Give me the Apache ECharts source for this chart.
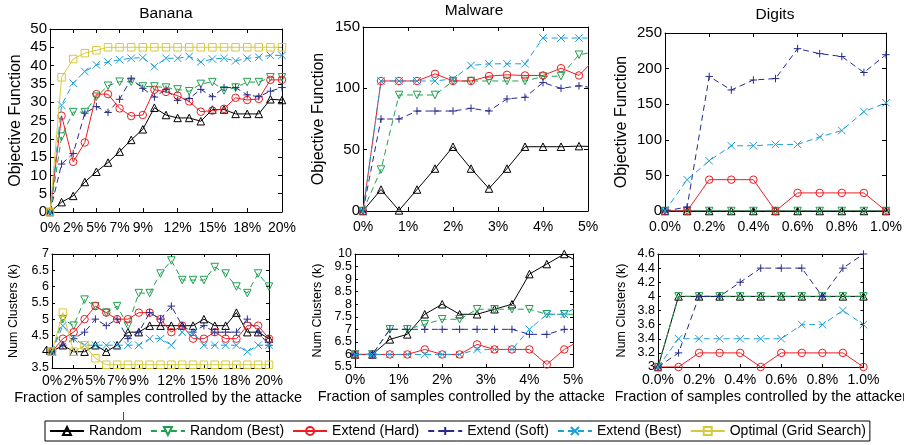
<!DOCTYPE html>
<html><head><meta charset="utf-8">
<script src="https://cdn.jsdelivr.net/npm/echarts@6/dist/echarts.min.js"></script>
<style>html,body{margin:0;padding:0;background:#fff}#c{width:909px;height:445px}</style>
</head><body><div id="c"></div>
<script>
// ---------- DATA ----------
const seriesNames = ['Random','Random (Best)','Extend (Hard)','Extend (Soft)','Extend (Best)','Optimal (Grid Search)'];
const panelTitles = ['Banana','Malware','Digits'];

const bananaX  = [0,1,2,3,4,5,6,7,8,9,10,11,12,13,14,15,16,17,18,19,20];
const malwareX = [0,0.4,0.8,1.2,1.6,2.0,2.4,2.8,3.2,3.6,4.0,4.4,4.8,5.2];
const digitsX  = [0,0.1,0.2,0.3,0.4,0.5,0.6,0.7,0.8,0.9,1.0];

const bananaTickValues = [0,2,4,6,8,11,14,17,20];
const bananaTickLabels = ['0%','2%','5%','7%','9%','12%','15%','18%','20%'];
const bananaKTicks  = [3.5,4,4.5,5,5.5,6,6.5,7];
const malwareKTicks = [5.5,6,6.5,7,7.5,8,8.5,9,9.5,10];
const digitsKTicks  = [3,3.2,3.4,3.6,3.8,4,4.2,4.4,4.6];

// Banana - Objective Function
const banObjRandom     = [0,2.7,4.4,8.2,11,13.5,16.5,19.7,22.6,28.5,26.5,25.7,25.7,24.8,28,28,26.8,26.8,26.8,30.8,30.6];
const banObjRandomBest = [0,20.6,27.3,27.3,31.5,34.5,35.6,35.6,34.3,34.3,34,33.5,33,35,35.5,33.2,34,35.5,35.5,36.8,36.8];
const banObjExtHard    = [0,26.3,13.7,19,32.2,32.2,28.3,26.2,26.5,33.4,32.8,31.8,30.2,27.4,27.7,28.2,31.2,30.6,30.9,36.1,36.1];
const banObjExtSoft    = [0,13.1,16,27,28.8,27.2,30.8,36.4,33.8,31.4,33.5,30.5,31,33.5,31.5,34,34,32,31.5,33,34];
const banObjExtBest    = [0,29.2,35.2,38.4,40.2,41,41.6,42,42.2,39.7,42,42,42.5,41,41.8,42,41.3,42,42.3,42.8,42.8];
const banObjOptimal    = [0,36.8,41.8,43.4,44.2,45,45,45,45,45,45,45,45,45,45,45,45,45,45,45,45];

// Malware - Objective Function
const malObjRandom     = [0,17.5,0.5,17.5,34.6,52.4,34.6,18.3,34.6,52.4,52.4,52.4,52.9,52.4];
const malObjRandomBest = [0,33.8,94.6,94.6,94.6,106,106,106,106,106,109.6,110,127.4,130];
const malObjExtHard    = [0,106,106,106,111.8,106,106,110,111,110.5,110.5,116.4,110.5,125.5];
const malObjExtSoft    = [0,75,75,81.5,81.5,81.5,83.7,81.5,91.4,92.7,104.7,100,102,100];
const malObjExtBest    = [0,106,106,106,106,107.7,118.6,120,120,120,141,141,141,141];

// Digits - Objective Function
const digObjRandom     = [0,0,0,0,0,0,0,0,0,0,0];
const digObjRandomBest = [0,0,0,0,0,0,0,0,0,0,0];
const digObjExtHard    = [0,0,44,44,44,0,25.4,25.4,25.4,25.4,0];
const digObjExtSoft    = [0,5.6,189,170,184,186,228,221,217,194.5,219.5];
const digObjExtBest    = [0,44,70.5,91.6,91.6,93.5,93.5,104,113,139.6,152];

// Banana - Num Clusters
const banKRandom     = [4,4.2,4,4,4.2,4,4.2,4.6,4.6,4.8,4.8,4.8,4.8,4.8,5,4.8,4.8,5.2,4.6,4.6,4.4];
const banKRandomBest = [4,5,4.8,5.6,5.4,5.2,5.4,4.8,5.8,5.8,6.4,6.8,6.2,6.2,6.2,6.6,6.4,6,5.8,6.4,6];
const banKExtHard    = [4,4.4,4.6,5,5.4,5.2,5,5,5.2,5.2,5,4.6,4.8,4.4,4.4,4.6,4.4,4.4,4.8,4.8,4.4];
const banKExtSoft    = [4,4.2,4.4,4.6,5,4.8,5,4.4,4.6,5.2,5,5.4,4.8,4.6,4.8,4.6,4.6,4.6,5,4.6,4.2];
const banKExtBest    = [4,4.8,4.4,4.2,4.2,4.2,4.2,4.2,4.2,4.4,4.4,4.2,4.6,4.6,4.2,4.2,4.2,4.2,4,4.2,4.2];
const banKOptimal    = [4,5.2,4,4.2,3.8,3.6,3.6,3.6,3.6,3.6,3.6,3.6,3.6,3.6,3.6,3.6,3.6,3.6,3.6,3.6,3.6];

// Malware - Num Clusters
const malKRandom     = [6,6,6.6,6.8,7.6,8,7.6,7.6,7.8,8,9.2,9.6,10,9.6];
const malKRandomBest = [6,6,7,7,7.2,7.4,7.4,7.8,7.8,7.8,7.8,7.6,7.6,7.6];
const malKExtHard    = [6,6,6,6,6.2,6,6,6.4,6.2,6.2,6.2,5.6,6.2,6.6];
const malKExtSoft    = [6,6,7,7,7,7,7,7,7,7,6.8,6.8,7,7];
const malKExtBest    = [6,6,6,6,6,6,6,6.2,6.2,6.2,7,7.6,7.6,8];

// Digits - Num Clusters
const digKRandom     = [3,4,4,4,4,4,4,4,4,4,4];
const digKRandomBest = [3,4,4,4,4,4,4,4,4,4,4];
const digKExtHard    = [3,3,3.2,3.2,3.2,3,3.2,3.2,3.2,3.2,3];
const digKExtSoft    = [3,3.2,4,4,4.2,4.4,4.4,4.4,4,4.4,4.6];
const digKExtBest    = [3,3.4,3.4,3.4,3.4,3.4,3.4,3.6,3.6,3.8,3.6];

// ---------- STYLE ----------
const FONT = 'Liberation Sans';
const styles = {
  'Random':                {color:'#000000', type:'solid', symbol:'triangle', rotate:0},
  'Random (Best)':         {color:'#20a050', type:[6,4],  symbol:'triangle', rotate:180},
  'Extend (Hard)':         {color:'#ee1d23', type:'solid', symbol:'circle', rotate:0},
  'Extend (Soft)':         {color:'#262b8d', type:[6,4],  symbol:'path://M5,0L5,10M0,5L10,5', rotate:0},
  'Extend (Best)':         {color:'#1a9fd9', type:[6,4],  symbol:'path://M0,0L10,10M10,0L0,10', rotate:0},
  'Optimal (Grid Search)': {color:'#d8c93c', type:'solid', symbol:'rect', rotate:0}
};

const panels = [
  {grid:{left:50, top:29, width:232, height:183}, x:bananaX, ys:[banObjRandom,banObjRandomBest,banObjExtHard,banObjExtSoft,banObjExtBest,banObjOptimal],
   xa:{min:0,max:20,custom:bananaTickValues,fmt:v=>bananaTickLabels[bananaTickValues.indexOf(v)]},
   ya:{min:0,max:50,interval:5}, yName:'Objective Function', yNameGap:26, top:true},
  {grid:{left:363, top:27, width:225, height:184}, x:malwareX, ys:[malObjRandom,malObjRandomBest,malObjExtHard,malObjExtSoft,malObjExtBest],
   xa:{min:0,max:5,interval:1,fmt:v=>v+'%'},
   ya:{min:0,max:150,interval:50}, yName:'Objective Function', yNameGap:36, top:true},
  {grid:{left:665, top:33, width:221, height:178}, x:digitsX, ys:[digObjRandom,digObjRandomBest,digObjExtHard,digObjExtSoft,digObjExtBest],
   xa:{min:0,max:1,interval:0.2,fmt:v=>v.toFixed(1)+'%'},
   ya:{min:0,max:250,interval:50}, yName:'Objective Function', yNameGap:35, top:true},
  {grid:{left:52, top:254, width:217, height:114}, x:bananaX, ys:[banKRandom,banKRandomBest,banKExtHard,banKExtSoft,banKExtBest,banKOptimal],
   xa:{min:0,max:20,custom:bananaTickValues,fmt:v=>bananaTickLabels[bananaTickValues.indexOf(v)]},
   ya:{min:3.5,max:7,interval:0.5,labels:bananaKTicks}, yName:'Num Clusters (k)', yNameX:14, top:false},
  {grid:{left:355, top:254, width:218, height:113}, x:malwareX, ys:[malKRandom,malKRandomBest,malKExtHard,malKExtSoft,malKExtBest],
   xa:{min:0,max:5,interval:1,fmt:v=>v+'%'},
   ya:{min:5.5,max:10,interval:0.5,labels:malwareKTicks}, yName:'Num Clusters (k)', yNameX:318, top:false},
  {grid:{left:658, top:254, width:218, height:113}, x:digitsX, ys:[digKRandom,digKRandomBest,digKExtHard,digKExtSoft,digKExtBest],
   xa:{min:0,max:1,interval:0.2,fmt:v=>v.toFixed(1)+'%'},
   ya:{min:3,max:4.6,interval:0.2,labels:digitsKTicks}, yName:'Num Clusters (k)', yNameX:622, top:false}
];

const grids = [], xAxes = [], yAxes = [], series = [], extraGraphics = [];
const black = '#000';
panels.forEach((p, g) => {
  grids.push(Object.assign({containLabel:false}, p.grid));
  const tickLen = p.top ? 4 : 3;
  const xBase = {gridIndex:g, type:'value', min:p.xa.min, max:p.xa.max,
    splitLine:{show:false}, axisLine:{onZero:false, lineStyle:{color:black, width:1}}};
  if (p.xa.interval) xBase.interval = p.xa.interval;
  const xMain = Object.assign({}, xBase, {position:'bottom',
    axisTick:{inside:true, length:tickLen, lineStyle:{color:black}},
    axisLabel:{color:black, fontFamily:FONT, fontSize:14, margin:p.top?9:6, formatter:p.xa.fmt,
      showMinLabel:true, showMaxLabel:true, hideOverlap:false}});
  const xTop = Object.assign({}, xBase, {position:'top',
    axisTick:{inside:true, length:tickLen, lineStyle:{color:black}}, axisLabel:{show:false}});
  if (p.xa.custom) {
    xMain.axisTick.customValues = p.xa.custom; xMain.axisLabel.customValues = p.xa.custom;
    xTop.axisTick.customValues = p.xa.custom; xTop.axisLabel.customValues = p.xa.custom;
  }
  if (!p.top) {
    xMain.name = 'Fraction of samples controlled by the attacker';
    xMain.nameLocation = 'middle'; xMain.nameGap = 22;
    xMain.nameTextStyle = {color:black, fontFamily:FONT, fontSize:14.5};
  }
  xAxes.push(xMain, xTop);
  const yBase = {gridIndex:g, type:'value', min:p.ya.min, max:p.ya.max, interval:p.ya.interval,
    splitLine:{show:false}, axisLine:{onZero:false, lineStyle:{color:black, width:1}},
    axisTick:{inside:true, length:tickLen, lineStyle:{color:black}}};
  const ylab = p.top
    ? {color:black, fontFamily:FONT, fontSize:15, margin:3, showMinLabel:true, showMaxLabel:true, hideOverlap:false}
    : {show:false};
  const yMain = Object.assign({}, yBase, {position:'left', axisLabel:ylab});
  if (p.top) {
    Object.assign(yMain, {name:p.yName, nameLocation:'middle', nameGap:p.yNameGap,
      nameTextStyle:{color:black, fontFamily:FONT, fontSize:16}});
  } else {
    extraGraphics.push({type:'text', x:p.yNameX, y:p.grid.top + p.grid.height/2, rotation:Math.PI/2,
      style:{text:p.yName, fill:black, font:'12.5px "Liberation Sans"', textAlign:'center', textVerticalAlign:'middle'}, z:50});
  }
  yAxes.push(yMain);
  yAxes.push(Object.assign({}, yBase, {position:'right', axisLabel:{show:false}}));
  p.ys.forEach((ys, k) => {
    const nm = seriesNames[k], st = styles[nm];
    series.push({
      name:nm, type:'line', xAxisIndex:2*g, yAxisIndex:2*g,
      data:p.x.map((xv, i) => [xv, ys[i]]),
      symbol:st.symbol, symbolRotate:st.rotate, symbolSize:7.5, showAllSymbol:true,
      lineStyle:{color:st.color, width:1, type:st.type},
      itemStyle:{color:'none', borderColor:st.color, borderWidth:1},
      clip:true, silent:true, animation:false, z:2+k,
      emphasis:{disabled:true}
    });
  });
});

const titles = [
  {text:panelTitles[0], left:166, top:6},
  {text:panelTitles[1], left:474, top:3},
  {text:panelTitles[2], left:775, top:7}
].map(t => Object.assign(t, {textAlign:'center', padding:0,
  textStyle:{color:black, fontFamily:FONT, fontSize:15.5, fontWeight:'normal'}}));

const baseGraphics = [
  {type:'rect', shape:{x:303, y:384, width:12, height:28}, style:{fill:'#fff'}, z:100},
  {type:'rect', shape:{x:604, y:384, width:12, height:28}, style:{fill:'#fff'}, z:100},
  {type:'rect', shape:{x:904, y:384, width:6, height:28}, style:{fill:'#fff'}, z:100},
  {type:'line', shape:{x1:123.5, y1:412, x2:123.5, y2:420}, style:{stroke:'#444', lineWidth:1}, z:100}
].concat(extraGraphics);

const chart = echarts.init(document.getElementById('c'), null, {renderer:'canvas'});
chart.setOption({
  backgroundColor:'#fff',
  animation:false,
  textStyle:{fontFamily:FONT},
  title:titles,
  grid:grids, xAxis:xAxes, yAxis:yAxes, series:series,
  legend:{
    data:seriesNames, left:45, top:421, orient:'horizontal',
    itemGap:8, itemWidth:34, itemHeight:10, padding:[3,4],
    borderColor:black, borderWidth:1, selectedMode:false,
    textStyle:{fontSize:14, color:black, fontFamily:FONT}
  },
  graphic:baseGraphics
});

// Bottom-row y tick labels, positioned through each panel's own y scale
const tickLabelGraphics = [];
panels.forEach((p, g) => {
  if (!p.ya.labels) return;
  p.ya.labels.forEach(v => {
    const py = chart.convertToPixel({yAxisIndex:2*g}, v);
    tickLabelGraphics.push({type:'text', x:p.grid.left - 3, y:py,
      style:{text:String(v), fill:black, font:'12.5px "Liberation Sans"', textAlign:'right', textVerticalAlign:'middle'}, z:50});
  });
});
chart.setOption({graphic:baseGraphics.concat(tickLabelGraphics)});
</script>
</body></html>
